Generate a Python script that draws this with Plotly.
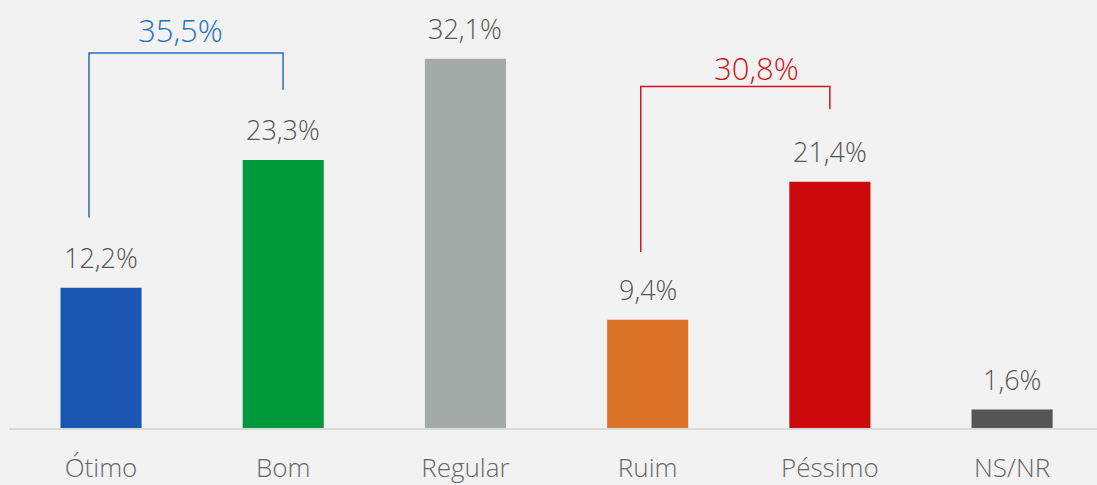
import plotly.graph_objects as go

categories = ["Ótimo", "Bom", "Regular", "Ruim", "Péssimo", "NS/NR"]
values = [12.2, 23.3, 32.1, 9.4, 21.4, 1.6]
value_labels = ["12,2%", "23,3%", "32,1%", "9,4%", "21,4%", "1,6%"]
bar_colors = ["#1a57b3", "#009a3d", "#a3aaa8", "#dc7428", "#cc0a0b", "#555555"]

group_labels = ["35,5%", "30,8%"]
group_colors = ["#1e74c6", "#d0161b"]

FONT = "Open Sans"

fig = go.Figure()
fig.add_trace(go.Bar(
    x=list(range(len(categories))), y=values,
    marker=dict(color=bar_colors, line=dict(width=0)),
    width=0.445, hoverinfo="skip",
))

for i, (v, t) in enumerate(zip(values, value_labels)):
    fig.add_annotation(x=i, y=v, text=t, showarrow=False, yanchor="bottom",
                       yshift=10, font=dict(family=FONT, size=27, color="#555555", weight=300))

# brackets
brackets = [
    dict(x0=-0.066, y0=18.3, x1=0.999, y1=29.4, top=32.6, color="#2b67bf",
         lx=0.438, ly=34.6, label=group_labels[0], lc=group_colors[0]),
    dict(x0=2.962, y0=15.3, x1=4.0, y1=27.7, top=29.68, color="#d0161b",
         lx=3.60, ly=31.3, label=group_labels[1], lc=group_colors[1]),
]
for b in brackets:
    fig.add_shape(type="path",
                  path=f"M {b['x0']} {b['y0']} L {b['x0']} {b['top']} L {b['x1']} {b['top']} L {b['x1']} {b['y1']}",
                  xref="x", yref="y", line=dict(color=b["color"], width=1.5))
    fig.add_annotation(x=b["lx"], y=b["ly"], text=b["label"], showarrow=False,
                       yanchor="middle", font=dict(family=FONT, size=31, color=b["lc"], weight=300))

fig.update_layout(
    width=1097, height=485,
    margin=dict(l=9, r=0, t=0, b=57),
    paper_bgcolor="#f2f2f2", plot_bgcolor="#f2f2f2",
    showlegend=False,
    xaxis=dict(range=[-0.505, 5.466], tickmode="array", tickvals=list(range(len(categories))),
               ticktext=categories, showgrid=False, zeroline=False, automargin=False,
               showline=True, linecolor="#dadada", linewidth=2,
               ticks="outside", ticklen=16, tickcolor="rgba(0,0,0,0)",
               tickfont=dict(family=FONT, size=26, color="#666666", weight=300)),
    yaxis=dict(range=[0, 37.2], visible=False, fixedrange=True, automargin=False),
)

fig.write_html("out.html", config={"displayModeBar": False},
               post_script="document.body.style.margin='0';document.body.style.overflow='hidden';")
